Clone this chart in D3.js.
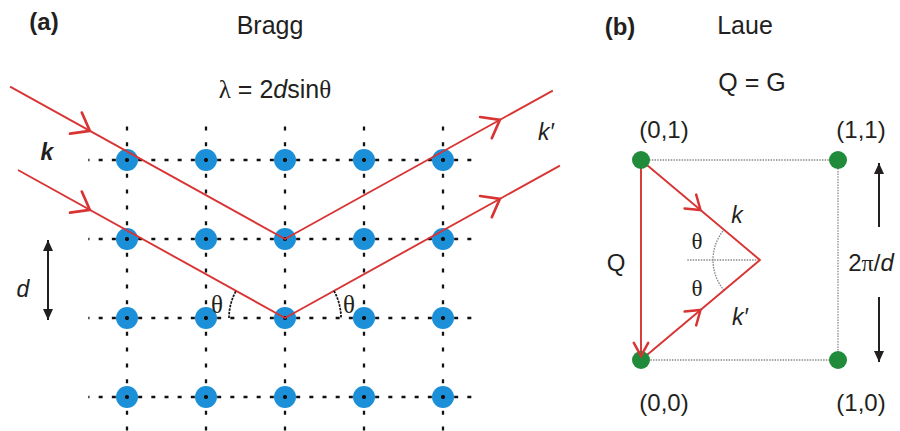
<!DOCTYPE html>
<html><head><meta charset="utf-8">
<script src="https://cdn.jsdelivr.net/npm/d3@7"></script>
<style>
body{margin:0;background:#fff}
svg{display:block}
text{font-family:"Liberation Sans",Arial,sans-serif;fill:#231f20}
.serif{font-family:"Liberation Serif","Times New Roman",serif}
</style>
</head><body>
<svg id="fig" width="900" height="431"></svg>
<script>
// ---- Panel (a): real-space lattice, in lattice units ----
const latticeCols = [0, 1, 2, 3, 4];
const latticeRows = [0, 1, 2, 3];
const braggThetaDeg = 29;
// Each ray reflects at a lattice site [col,row]; start/end are horizontal extents
const rayReflect = [[2, 1], [2, 2]];
const rayStartX = [-1.48, -1.38];
const rayEndX = [5.39, 5.48];
const rayInArrowX = [-0.47, -0.47];
const rayOutArrowX = [4.72, 4.72];
const gridExtentX = [-0.49, 4.47];
const gridExtentY = [-0.48, 3.45];

// ---- Panel (b): reciprocal lattice ----
const recipH = [0, 1, 0, 1];
const recipK = [1, 1, 0, 0];
const recipLabels = ["(0,1)", "(1,1)", "(0,0)", "(1,0)"];
const laueApex = [0.604, 0.5];

const svg = d3.select("#fig");
const RED = "#d93434", BLUE = "#1c8fd9", GREEN = "#1f8b3b";

const xA = d3.scaleLinear().domain([0, 4]).range([127, 443]);
const yA = d3.scaleLinear().domain([0, 3]).range([160, 397]);
const xB = d3.scaleLinear().domain([0, 1]).range([641, 838]);
const yB = d3.scaleLinear().domain([0, 1]).range([360, 160]);

// open "V" arrowhead with tip at (x,y) pointing along angle dir
function chevron(g, x, y, dir, len, spread, color, w) {
  const a1 = dir + Math.PI - spread, a2 = dir + Math.PI + spread;
  g.append("path")
    .attr("d", `M${x + len * Math.cos(a1)},${y + len * Math.sin(a1)}L${x},${y}L${x + len * Math.cos(a2)},${y + len * Math.sin(a2)}`)
    .attr("fill", "none").attr("stroke", color).attr("stroke-width", w)
    .attr("stroke-linejoin", "miter").attr("stroke-linecap", "round");
}
// filled triangular head arrow from (x1,y1) to (x2,y2)
function solidArrow(g, x1, y1, x2, y2, both) {
  g.append("line").attr("x1", x1).attr("y1", y1).attr("x2", x2).attr("y2", y2)
    .attr("stroke", "#231f20").attr("stroke-width", 2);
  const head = (tx, ty, fx, fy) => {
    const a = Math.atan2(ty - fy, tx - fx), L = 11, W = 5;
    const bx = tx - L * Math.cos(a), by = ty - L * Math.sin(a);
    g.append("path").attr("d",
      `M${tx},${ty}L${bx + W * Math.sin(a)},${by - W * Math.cos(a)}L${bx - W * Math.sin(a)},${by + W * Math.cos(a)}Z`)
      .attr("fill", "#231f20");
  };
  head(x2, y2, x1, y1);
  if (both) head(x1, y1, x2, y2);
}

// ================= Panel (a) =================
const gA = svg.append("g");

// atoms
gA.selectAll("circle.atom")
  .data(d3.cross(latticeCols, latticeRows))
  .join("circle").attr("class", "atom")
  .attr("cx", d => xA(d[0])).attr("cy", d => yA(d[1])).attr("r", 11)
  .attr("fill", BLUE);

// dotted lattice lines (drawn over the atoms), one dash centred on each site
const hPeriod = (xA(1) - xA(0)) / 6, vPeriod = (yA(1) - yA(0)) / 5, dash = 4;
const phase = (start, site, P) => (((start - (site - dash / 2)) % P) + P) % P;
gA.selectAll("line.h").data(latticeRows).join("line").attr("class", "h")
  .attr("x1", xA(gridExtentX[0])).attr("x2", xA(gridExtentX[1]))
  .attr("y1", d => yA(d)).attr("y2", d => yA(d))
  .attr("stroke", "#111").attr("stroke-width", 2.3)
  .attr("stroke-dasharray", `${dash},${hPeriod - dash}`)
  .attr("stroke-dashoffset", phase(xA(gridExtentX[0]), xA(0), hPeriod));
gA.selectAll("line.v").data(latticeCols).join("line").attr("class", "v")
  .attr("y1", yA(gridExtentY[0])).attr("y2", yA(gridExtentY[1]))
  .attr("x1", d => xA(d)).attr("x2", d => xA(d))
  .attr("stroke", "#111").attr("stroke-width", 2.3)
  .attr("stroke-dasharray", `${dash},${vPeriod - dash}`)
  .attr("stroke-dashoffset", phase(yA(gridExtentY[0]), yA(0), vPeriod));

// incident and reflected rays
const thRad = braggThetaDeg * Math.PI / 180;
const tanT = Math.tan(thRad);
rayReflect.forEach((p, i) => {
  const [c, r] = p;
  const yIn = x => r - (c - x) * tanT;
  const yOut = x => r - (x - c) * tanT;
  gA.append("path")
    .attr("d", d3.line()([[xA(rayStartX[i]), yA(yIn(rayStartX[i]))], [xA(c), yA(r)], [xA(rayEndX[i]), yA(yOut(rayEndX[i]))]]))
    .attr("fill", "none").attr("stroke", RED).attr("stroke-width", 1.9);
  chevron(gA, xA(rayInArrowX[i]), yA(yIn(rayInArrowX[i])), thRad, 20, 0.65, RED, 2.7);
  chevron(gA, xA(rayOutArrowX[i]), yA(yOut(rayOutArrowX[i])), -thRad, 20, 0.65, RED, 2.7);
});

// Bragg angle arcs at the lower reflection site
const arcA = d3.arc().innerRadius(56).outerRadius(56);
const refl = rayReflect[1];
[[-Math.PI / 2, -Math.PI / 2 + thRad], [Math.PI / 2 - thRad, Math.PI / 2]].forEach(([s, e]) => {
  gA.append("path").attr("transform", `translate(${xA(refl[0])},${yA(refl[1])})`)
    .attr("d", arcA({ startAngle: s, endAngle: e }))
    .attr("fill", "none").attr("stroke", "#111").attr("stroke-width", 1.7)
    .attr("stroke-dasharray", "1.6,2");
});
gA.append("text").attr("class", "serif").attr("x", 217).attr("y", 313).attr("text-anchor", "middle")
  .attr("font-size", 25).text("θ");
gA.append("text").attr("class", "serif").attr("x", 349).attr("y", 313).attr("text-anchor", "middle")
  .attr("font-size", 25).text("θ");

// lattice spacing arrow
solidArrow(gA, 48, yA(1) + 1, 48, yA(2) + 2, true);
gA.append("text").attr("x", 23).attr("y", 297).attr("text-anchor", "middle")
  .attr("font-size", 23).attr("font-style", "italic").text("d");

// labels
gA.append("text").attr("x", 44).attr("y", 30).attr("text-anchor", "middle")
  .attr("font-size", 24).attr("font-weight", "bold").text("(a)");
gA.append("text").attr("x", 270).attr("y", 34).attr("text-anchor", "middle")
  .attr("font-size", 25).text("Bragg");
const law = gA.append("text").attr("x", 275).attr("y", 98).attr("text-anchor", "middle").attr("font-size", 25);
law.append("tspan").attr("class", "serif").text("λ");
law.append("tspan").text(" = 2");
law.append("tspan").attr("font-style", "italic").text("d");
law.append("tspan").text("sin");
law.append("tspan").attr("class", "serif").text("θ");
gA.append("text").attr("x", 47).attr("y", 160).attr("text-anchor", "middle")
  .attr("font-size", 23).attr("font-weight", "bold").attr("font-style", "italic").text("k");
gA.append("text").attr("x", 546).attr("y", 140).attr("text-anchor", "middle")
  .attr("font-size", 23).attr("font-style", "italic").text("k′");

// ================= Panel (b) =================
const gB = svg.append("g");
const dotted = sel => sel.attr("fill", "none").attr("stroke", "#8a8a8a").attr("stroke-width", 1.3).attr("stroke-dasharray", "1.5,1.2");

// cell edges
dotted(gB.append("path").attr("d", d3.line()([[xB(0), yB(1)], [xB(1), yB(1)], [xB(1), yB(0)], [xB(0), yB(0)]])));

// scattering triangle
const apex = [xB(laueApex[0]), yB(laueApex[1])];
dotted(gB.append("line").attr("x1", xB(0.235)).attr("x2", apex[0]).attr("y1", apex[1]).attr("y2", apex[1]));
const angK = Math.atan2(xB(0) - apex[0], -(yB(1) - apex[1]));
const angKp = Math.atan2(xB(0) - apex[0], -(yB(0) - apex[1]));
dotted(gB.append("path").attr("transform", `translate(${apex[0]},${apex[1]})`)
  .attr("d", d3.arc().innerRadius(47).outerRadius(47)({ startAngle: angKp, endAngle: angK })));

gB.append("path")
  .attr("d", d3.line()([[xB(0), yB(0)], [xB(0), yB(1)], apex, [xB(0), yB(0)]]))
  .attr("fill", "none").attr("stroke", RED).attr("stroke-width", 1.9).attr("stroke-linejoin", "round");

// reciprocal lattice points
gB.selectAll("circle.rl").data(recipH).join("circle").attr("class", "rl")
  .attr("cx", d => xB(d)).attr("cy", (d, i) => yB(recipK[i])).attr("r", 9)
  .attr("fill", GREEN);

// arrowheads on Q, k and k'
chevron(gB, xB(0), yB(0) - 4, Math.PI / 2, 15, 0.5, RED, 2.5);
const dK = Math.atan2(apex[1] - yB(1), apex[0] - xB(0));
const dKp = Math.atan2(apex[1] - yB(0), apex[0] - xB(0));
chevron(gB, xB(0) + 0.5 * (apex[0] - xB(0)), yB(1) + 0.5 * (apex[1] - yB(1)), dK, 16, 0.6, RED, 2.5);
chevron(gB, xB(0) + 0.5 * (apex[0] - xB(0)), yB(0) + 0.5 * (apex[1] - yB(0)), dKp, 16, 0.6, RED, 2.5);

// point labels
gB.selectAll("text.pl").data(recipLabels).join("text").attr("class", "pl")
  .attr("x", (d, i) => xB(recipH[i]) + 23)
  .attr("y", (d, i) => recipK[i] === 1 ? 138 : 411)
  .attr("text-anchor", "middle").attr("font-size", 24).text(d => d);

gB.append("text").attr("x", 737).attr("y", 223).attr("text-anchor", "middle")
  .attr("font-size", 23).attr("font-style", "italic").text("k");
gB.append("text").attr("x", 740).attr("y", 325).attr("text-anchor", "middle")
  .attr("font-size", 23).attr("font-style", "italic").text("k′");
gB.append("text").attr("class", "serif").attr("x", 697).attr("y", 249).attr("text-anchor", "middle")
  .attr("font-size", 23).text("θ");
gB.append("text").attr("class", "serif").attr("x", 697).attr("y", 296).attr("text-anchor", "middle")
  .attr("font-size", 23).text("θ");
gB.append("text").attr("x", 616).attr("y", 271).attr("text-anchor", "middle")
  .attr("font-size", 24).text("Q");
const gl = gB.append("text").attr("x", 871).attr("y", 271).attr("text-anchor", "middle").attr("font-size", 24);
gl.append("tspan").text("2");
gl.append("tspan").attr("class", "serif").text("π");
gl.append("tspan").text("/");
gl.append("tspan").attr("font-style", "italic").text("d");

solidArrow(gB, 879, 227, 879, 163, false);
solidArrow(gB, 879, 297, 879, 362, false);

gB.append("text").attr("x", 620).attr("y", 35).attr("text-anchor", "middle")
  .attr("font-size", 24).attr("font-weight", "bold").text("(b)");
gB.append("text").attr("x", 745).attr("y", 34).attr("text-anchor", "middle")
  .attr("font-size", 25).text("Laue");
gB.append("text").attr("x", 752).attr("y", 91).attr("text-anchor", "middle")
  .attr("font-size", 25).text("Q = G");
</script>
</body></html>
